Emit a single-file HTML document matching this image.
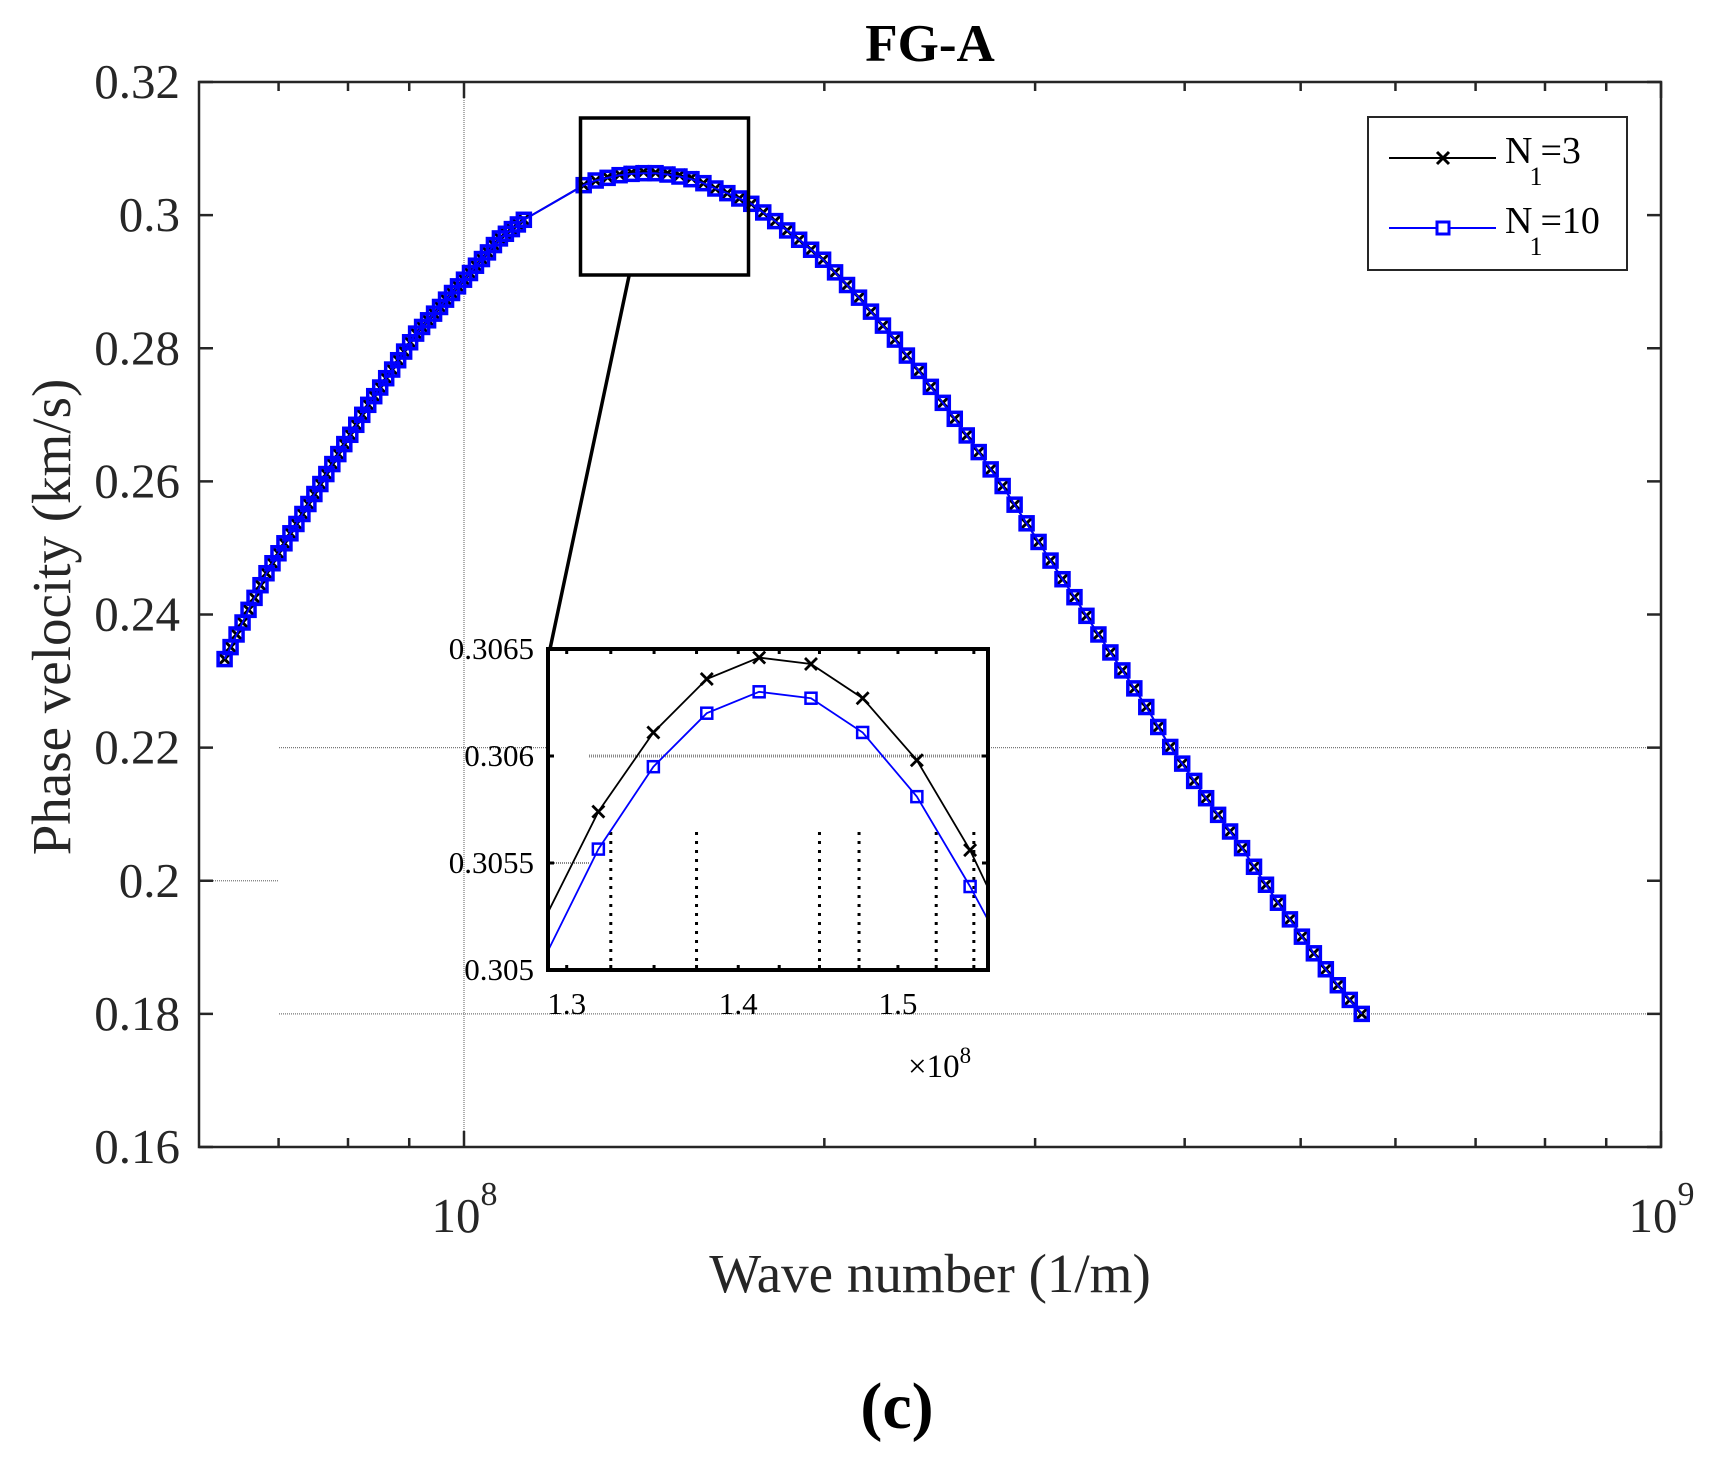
<!DOCTYPE html>
<html><head><meta charset="utf-8"><title>FG-A</title>
<style>
html,body{margin:0;padding:0;background:#fff;}
svg{display:block;font-family:"Liberation Serif",serif;}
</style></head>
<body>
<svg id="chart" width="1713" height="1457" viewBox="0 0 1713 1457" xmlns="http://www.w3.org/2000/svg">
<rect width="1713" height="1457" fill="#fff"/>
<text x="930" y="61" text-anchor="middle" font-size="53" font-weight="bold" fill="#000">FG-A</text>
<g id="grid"></g>
<g id="series"></g>
<g id="axes"></g>
<text x="930" y="1292" text-anchor="middle" font-size="55" fill="#262626">Wave number (1/m)</text>
<text x="0" y="0" transform="translate(70,617) rotate(-90)" text-anchor="middle" font-size="55" fill="#262626">Phase velocity (km/s)</text>
<text x="897" y="1428" text-anchor="middle" font-size="66" font-weight="bold" fill="#000">(c)</text>
<g id="zoom"></g>
<g id="inset"></g>
<g id="legend">
  <rect x="1368" y="117" width="259" height="153" fill="#fff" stroke="#262626" stroke-width="2"/>
  <g>
    <line x1="1389" y1="158" x2="1496" y2="158" stroke="#000" stroke-width="2"/>
    <path d="M1437 152 L1449 164 M1449 152 L1437 164" stroke="#000" stroke-width="3"/>
    <text x="1505" y="163" font-size="38" fill="#000">N<tspan font-size="26" dy="22" dx="-3">1</tspan><tspan dy="-22" dx="-2">=3</tspan></text>
  </g>
  <g>
    <line x1="1389" y1="228" x2="1496" y2="228" stroke="#0000ff" stroke-width="2"/>
    <rect x="1437" y="222" width="12" height="12" fill="#fff" stroke="#0000ff" stroke-width="3"/>
    <text x="1505" y="233" font-size="38" fill="#000">N<tspan font-size="26" dy="22" dx="-3">1</tspan><tspan dy="-22" dx="-2">=10</tspan></text>
  </g>
</g>
</svg>
<script>
// ---- main chart data (log10 of wave number, phase velocity km/s) ----
const logWaveNumber = [7.800,7.805,7.810,7.815,7.820,7.825,7.830,7.835,7.840,7.845,7.850,7.855,7.860,7.865,7.870,7.875,7.880,7.885,7.890,7.895,7.900,7.905,7.910,7.915,7.920,7.925,7.930,7.935,7.940,7.945,7.950,7.955,7.960,7.965,7.970,7.975,7.980,7.985,7.990,7.995,8.000,8.005,8.010,8.015,8.020,8.025,8.030,8.035,8.040,8.045,8.050,
8.100,8.110,8.120,8.130,8.140,8.150,8.160,8.170,8.180,8.190,8.200,8.210,8.220,8.230,8.240,8.250,8.260,8.270,8.280,8.290,8.300,8.310,8.320,8.330,8.340,8.350,8.360,8.370,8.380,8.390,8.400,8.410,8.420,8.430,8.440,8.450,8.460,8.470,8.480,8.490,8.500,8.510,8.520,8.530,8.540,8.550,8.560,8.570,8.580,8.590,8.600,8.610,8.620,8.630,8.640,8.650,8.660,8.670,8.680,8.690,8.700,8.710,8.720,8.730,8.740,8.750];
const velocityN3 = [.2333,.2351,.2370,.2388,.2407,.2425,.2444,.2462,.2477,.2492,.2507,.2522,.2536,.2551,.2566,.2581,.2596,.2611,.2626,.2641,.2656,.2670,.2685,.2700,.2715,.2728,.2741,.2755,.2768,.2782,.2795,.2809,.2822,.2832,.2842,.2852,.2862,.2873,.2883,.2893,.2903,.2913,.2924,.2934,.2944,.2955,.2965,.2972,.2979,.2986,.2993,
.3045,.3052,.3057,.3061,.3064,.3065,.3064,.3063,.3060,.3056,.3048,.3040,.3033,.3025,.3017,.3004,.2991,.2977,.2963,.2948,.2933,.2914,.2895,.2876,.2855,.2834,.2813,.2789,.2766,.2742,.2718,.2694,.2669,.2644,.2618,.2593,.2565,.2537,.2509,.2481,.2453,.2426,.2398,.2370,.2343,.2316,.2289,.2261,.2231,.2201,.2176,.2150,.2124,.2099,.2074,.2049,.2021,.1994,.1967,.1942,.1916,.1891,.1867,.1843,.1821,.1800];
const velocityN10 = [.2333,.2351,.2370,.2388,.2407,.2425,.2444,.2462,.2477,.2492,.2507,.2522,.2536,.2551,.2566,.2581,.2596,.2611,.2626,.2641,.2656,.2670,.2685,.2700,.2715,.2728,.2741,.2755,.2768,.2782,.2795,.2809,.2822,.2832,.2842,.2852,.2862,.2873,.2883,.2893,.2903,.2913,.2924,.2934,.2944,.2955,.2965,.2972,.2979,.2986,.2993,
.3045,.3052,.3056,.3060,.3062,.3063,.3063,.3061,.3058,.3054,.3048,.3040,.3033,.3025,.3017,.3004,.2991,.2977,.2963,.2948,.2933,.2914,.2895,.2876,.2855,.2834,.2813,.2789,.2766,.2742,.2718,.2694,.2669,.2644,.2618,.2593,.2565,.2537,.2509,.2481,.2453,.2426,.2398,.2370,.2343,.2316,.2289,.2261,.2231,.2201,.2176,.2150,.2124,.2099,.2074,.2049,.2021,.1994,.1967,.1942,.1916,.1891,.1867,.1843,.1821,.1800];
const yTickValues = [0.16,0.18,0.2,0.22,0.24,0.26,0.28,0.3,0.32];
const yTickLabels = ["0.16","0.18","0.2","0.22","0.24","0.26","0.28","0.3","0.32"];
const xMajorExponents = [8,9];
const xMinorValues = [7e7,8e7,9e7,2e8,3e8,4e8,5e8,6e8,7e8,8e8,9e8];

// ---- inset data (wave number x1e8, velocity) ----
const insetK = [1.2866,1.3179,1.3496,1.3811,1.4127,1.4447,1.4773,1.5123,1.5475,1.584];
const insetN3 = [.30522,.30574,.30611,.30636,.30646,.30643,.30627,.30598,.30556,.30503];
const insetN10 = [.30504,.305565,.30595,.3062,.3063,.30627,.30611,.30581,.30539,.30492];
const insetXTicks = [1.3,1.325,1.35,1.375,1.4,1.425,1.45,1.475,1.5,1.525,1.55];
const insetXLabels = ["1.3","1.4","1.5"];
const insetYTicks = [0.305,0.3055,0.306,0.3065];
const insetYLabels = ["0.305","0.3055","0.306","0.3065"];
const insetDotted = [1.325,1.375,1.45,1.475,1.525,1.55];

const NS = "http://www.w3.org/2000/svg";
function mk(tag, attrs, parent){const e=document.createElementNS(NS,tag);for(const k in attrs)e.setAttribute(k,attrs[k]);parent.appendChild(e);return e;}

const L=199,R=1661,T=82,B=1147;
const X0=464, DEC=1197;
function xs(lg){return X0+(lg-8)*DEC;}
function ys(v){return T+(0.32-v)/0.16*(B-T);}

const grid=document.getElementById('grid');
const g1=mk('line',{x1:xs(8),y1:T,x2:xs(8),y2:B,stroke:'#777','stroke-width':1.2,'stroke-dasharray':'1 1'},grid);


const g2=mk('line',{x1:279,y1:ys(0.22),x2:R,y2:ys(0.22),stroke:'#777','stroke-width':1.2,'stroke-dasharray':'1 1'},grid);


const g3=mk('line',{x1:279,y1:ys(0.18),x2:R,y2:ys(0.18),stroke:'#777','stroke-width':1.2,'stroke-dasharray':'1 1'},grid);


const g4=mk('line',{x1:L,y1:ys(0.2),x2:279,y2:ys(0.2),stroke:'#777','stroke-width':1.2,'stroke-dasharray':'1 1'},grid);



const axes=document.getElementById('axes');
const box=mk('rect',{x:L,y:T,width:R-L,height:B-T,fill:'none',stroke:'#262626','stroke-width':2.5},axes);


yTickValues.forEach((v,i)=>{
  const y=ys(v);
  mk('line',{x1:L,y1:y,x2:L+14,y2:y,stroke:'#262626','stroke-width':2.5},axes);
  mk('line',{x1:R,y1:y,x2:R-14,y2:y,stroke:'#262626','stroke-width':2.5},axes);
  const t=mk('text',{x:180,y:y+16,'text-anchor':'end','font-size':49,fill:'#262626'},axes);
  t.textContent=yTickLabels[i];
  
  
});
xMajorExponents.forEach(e=>{
  const x=xs(e);
  mk('line',{x1:x,y1:B,x2:x,y2:B-16,stroke:'#262626','stroke-width':2.5},axes);
  mk('line',{x1:x,y1:T,x2:x,y2:T+16,stroke:'#262626','stroke-width':2.5},axes);
  const t=mk('text',{x:x-8,y:1232,'text-anchor':'middle','font-size':49,fill:'#262626'},axes);
  t.textContent='10';
  
  
  const s=mk('text',{x:x+25,y:1205,'text-anchor':'middle','font-size':34,fill:'#262626'},axes);
  s.textContent=String(e);
  
  
});
xMinorValues.forEach(v=>{
  const x=xs(Math.log10(v));
  mk('line',{x1:x,y1:B,x2:x,y2:B-9,stroke:'#262626','stroke-width':2.5},axes);
  mk('line',{x1:x,y1:T,x2:x,y2:T+9,stroke:'#262626','stroke-width':2.5},axes);
});

const ser=document.getElementById('series');
function drawSeries(vals,color,marker,name){
  const g=mk('g',{},ser);
  
  
  const pts=logWaveNumber.map((lg,i)=>xs(lg).toFixed(1)+','+ys(vals[i]).toFixed(1)).join(' ');
  mk('polyline',{points:pts,fill:'none',stroke:color,'stroke-width':2},g);
  logWaveNumber.forEach((lg,i)=>{
    const x=xs(lg),y=ys(vals[i]);
    let m;
    if(marker==='x') m=mk('path',{d:`M${x-6} ${y-6}L${x+6} ${y+6}M${x+6} ${y-6}L${x-6} ${y+6}`,stroke:color,'stroke-width':3},g);
    else m=mk('rect',{x:x-6.5,y:y-6.5,width:13,height:13,fill:'none',stroke:color,'stroke-width':3.5},g);
    
    
  });
}
drawSeries(velocityN3,'#000','x','series-n1-3');
drawSeries(velocityN10,'#0000ff','s','series-n1-10');

const zoom=document.getElementById('zoom');
const zr=mk('rect',{x:580.5,y:118,width:168,height:157,fill:'none',stroke:'#000','stroke-width':3.5},zoom);


const zl=mk('line',{x1:629,y1:276,x2:550,y2:649,stroke:'#000','stroke-width':3.5},zoom);



const IL=548,IR=988,IT=649,IB=970;
const IX0=566.7, IDEC=5330;
function ixs(k){return IX0+Math.log10(k/1.3)*IDEC;}
function iys(v){return IT+(0.3065-v)/0.0015*(IB-IT);}
const ins=document.getElementById('inset');


mk('rect',{x:IL,y:IT,width:IR-IL,height:IB-IT,fill:'#fff'},ins);
const defs=mk('defs',{},ins);
const cp=mk('clipPath',{id:'iclip'},defs);
mk('rect',{x:IL,y:IT,width:IR-IL,height:IB-IT},cp);
const ig=mk('g',{'clip-path':'url(#iclip)'},ins);
mk('line',{x1:589,y1:iys(0.306),x2:IR,y2:iys(0.306),stroke:'#888','stroke-width':3,'stroke-dasharray':'1 1'},ig);
mk('line',{x1:IL,y1:iys(0.3055),x2:589,y2:iys(0.3055),stroke:'#888','stroke-width':2,'stroke-dasharray':'1 1'},ig);
insetDotted.forEach(k=>{
  const d=mk('line',{x1:ixs(k),y1:832,x2:ixs(k),y2:966,stroke:'#000','stroke-width':3,'stroke-dasharray':'3 6'},ig);
  
  
});
function insetSeries(vals,color,marker,name){
  const g=mk('g',{},ig);
  
  
  mk('polyline',{points:insetK.map((k,i)=>ixs(k).toFixed(1)+','+iys(vals[i]).toFixed(1)).join(' '),fill:'none',stroke:color,'stroke-width':1.8},g);
  insetK.forEach((k,i)=>{
    const x=ixs(k),y=iys(vals[i]);
    let m;
    if(marker==='x') m=mk('path',{d:`M${x-6} ${y-6}L${x+6} ${y+6}M${x+6} ${y-6}L${x-6} ${y+6}`,stroke:color,'stroke-width':2.8},g);
    else m=mk('rect',{x:x-5.5,y:y-5.5,width:11,height:11,fill:'none',stroke:color,'stroke-width':2.5},g);
    
    
  });
}
insetSeries(insetN3,'#000','x','inset-series-n1-3');
insetSeries(insetN10,'#0000ff','s','inset-series-n1-10');
insetXTicks.forEach(k=>{
  const x=ixs(k);
  mk('line',{x1:x,y1:IT,x2:x,y2:IT+5,stroke:'#000','stroke-width':3},ins);
  mk('line',{x1:x,y1:IB,x2:x,y2:IB-5,stroke:'#000','stroke-width':3},ins);
});
insetXLabels.forEach(s=>{
  const t=mk('text',{x:ixs(parseFloat(s)),y:1014,'text-anchor':'middle','font-size':31,fill:'#000'},ins);
  t.textContent=s;
  
  
});
insetYTicks.forEach((v,i)=>{
  const y=iys(v);
  mk('line',{x1:IL,y1:y,x2:IL+6,y2:y,stroke:'#000','stroke-width':3},ins);
  mk('line',{x1:IR,y1:y,x2:IR-6,y2:y,stroke:'#000','stroke-width':3},ins);
  const t=mk('text',{x:534,y:y+10,'text-anchor':'end','font-size':31,fill:'#000'},ins);
  t.textContent=insetYLabels[i];
  
  
});
const ib=mk('rect',{x:IL,y:IT,width:IR-IL,height:IB-IT,fill:'none',stroke:'#000','stroke-width':4},ins);


const mult=mk('text',{x:908,y:1077,'font-size':33,fill:'#000'},ins);


mult.innerHTML='×10<tspan font-size="23" dy="-14">8</tspan>';
</script>
</body></html>
